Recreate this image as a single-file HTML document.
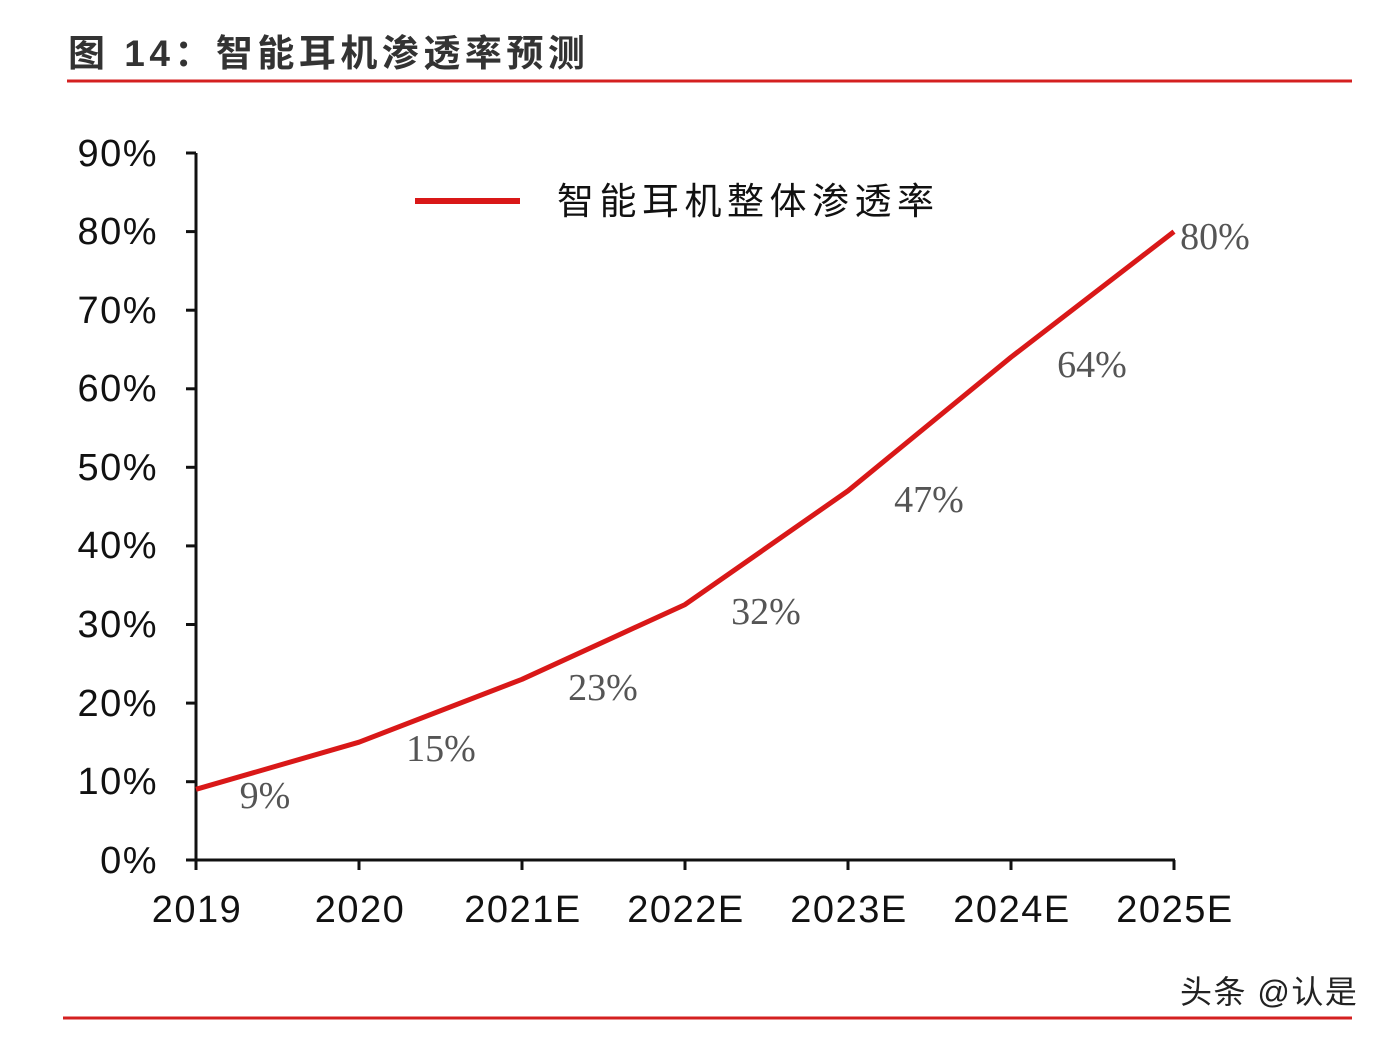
<!DOCTYPE html>
<html><head><meta charset="utf-8"><style>
html,body{margin:0;padding:0;background:#fff;}
svg{display:block}
</style></head><body>
<svg width="1396" height="1040" viewBox="0 0 1396 1040" xmlns="http://www.w3.org/2000/svg">
<rect width="1396" height="1040" fill="#fff"/>
<text x="68" y="66" font-family="Liberation Sans, Noto Sans CJK SC, sans-serif" font-size="37" fill="#333" font-weight="bold" letter-spacing="4.5">图 14：智能耳机渗透率预测</text>
<line x1="67" y1="81" x2="1352" y2="81" stroke="#d42020" stroke-width="3"/>
<line x1="63" y1="1018" x2="1352" y2="1018" stroke="#d42020" stroke-width="3"/>
<g stroke="#111" stroke-width="3">
<line x1="196" y1="153" x2="196" y2="861"/>
<line x1="195" y1="860" x2="1175" y2="860"/>
<line x1="186" y1="153" x2="196" y2="153"/>
<line x1="186" y1="231.6" x2="196" y2="231.6"/>
<line x1="186" y1="310.2" x2="196" y2="310.2"/>
<line x1="186" y1="388.8" x2="196" y2="388.8"/>
<line x1="186" y1="467.3" x2="196" y2="467.3"/>
<line x1="186" y1="545.9" x2="196" y2="545.9"/>
<line x1="186" y1="624.5" x2="196" y2="624.5"/>
<line x1="186" y1="703.1" x2="196" y2="703.1"/>
<line x1="186" y1="781.7" x2="196" y2="781.7"/>
<line x1="186" y1="860" x2="196" y2="860"/>
<line x1="196" y1="860" x2="196" y2="870"/>
<line x1="359" y1="860" x2="359" y2="870"/>
<line x1="522" y1="860" x2="522" y2="870"/>
<line x1="685" y1="860" x2="685" y2="870"/>
<line x1="848" y1="860" x2="848" y2="870"/>
<line x1="1011" y1="860" x2="1011" y2="870"/>
<line x1="1174" y1="860" x2="1174" y2="870"/>
</g>
<g font-family="Liberation Sans, sans-serif" font-size="38" fill="#111" text-anchor="end" letter-spacing="1.5">
<text x="158" y="166">90%</text>
<text x="158" y="244">80%</text>
<text x="158" y="323">70%</text>
<text x="158" y="401">60%</text>
<text x="158" y="480">50%</text>
<text x="158" y="558">40%</text>
<text x="158" y="637">30%</text>
<text x="158" y="716">20%</text>
<text x="158" y="794">10%</text>
<text x="158" y="873">0%</text>
</g>
<g font-family="Liberation Sans, sans-serif" font-size="38" fill="#111" text-anchor="middle" letter-spacing="1.5">
<text x="197" y="922">2019</text>
<text x="360" y="922">2020</text>
<text x="523" y="922">2021E</text>
<text x="686" y="922">2022E</text>
<text x="849" y="922">2023E</text>
<text x="1012" y="922">2024E</text>
<text x="1175" y="922">2025E</text>
</g>
<polyline points="196,789.3 359,742.2 522,679.3 685,604.6 848,490.8 1011,357.2 1174,231.6" fill="none" stroke="#d91818" stroke-width="5" stroke-linejoin="round"/>
<g font-family="Liberation Serif, serif" font-size="38" fill="#555" text-anchor="middle">
<text x="265" y="808">9%</text>
<text x="441" y="761">15%</text>
<text x="603" y="700">23%</text>
<text x="766" y="624">32%</text>
<text x="929" y="512">47%</text>
<text x="1092" y="377">64%</text>
<text x="1215" y="249">80%</text>
</g>
<line x1="415" y1="201" x2="520" y2="201" stroke="#d91818" stroke-width="6"/>
<text x="557" y="214" font-family="Liberation Sans, Noto Sans CJK SC, sans-serif" font-size="37" fill="#111" letter-spacing="5.5">智能耳机整体渗透率</text>
<text x="1180" y="1003" font-family="Liberation Sans, Noto Sans CJK SC, sans-serif" font-size="32" fill="#222" letter-spacing="1.5">头条 @认是</text>
</svg>
</body></html>
